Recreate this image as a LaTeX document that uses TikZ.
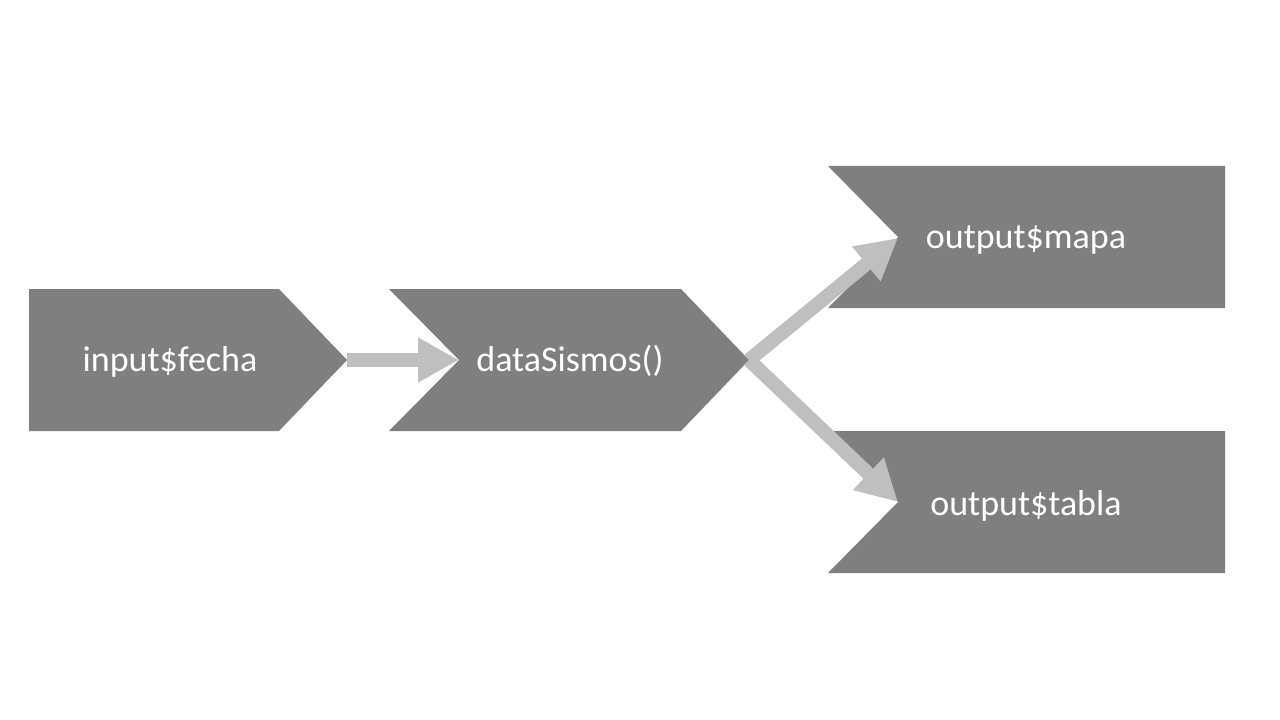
\documentclass[tikz,border=0pt]{standalone}
\usepackage{fontspec}
\setmainfont{Carlito}
\usetikzlibrary{arrows.meta}
\definecolor{shapegray}{HTML}{7F7F7F}
\definecolor{arrowgray}{HTML}{BFBFBF}
\tikzset{
  blockshape/.style={fill=shapegray, draw=none},
  label/.style={text=white, font=\fontsize{27pt}{32pt}\selectfont, inner sep=0pt, anchor=base},
  flow/.style={draw=arrowgray, line width=10.5pt, line cap=butt,
    -{Triangle[length=30.75pt, width=31.5pt]}, arrowgray}
}
\begin{document}
\begin{tikzpicture}[x=0.75pt, y=-0.75pt]
\useasboundingbox (0,0) rectangle (1280,720);
% shapes
\path[blockshape] (29,289) -- (279,289) -- (347,360) -- (279,431) -- (29,431) -- cycle;
\path[blockshape] (389,289) -- (681,289) -- (749,360) -- (681,431) -- (389,431) -- (459,360) -- cycle;
\path[blockshape] (828,166) -- (1225,166) -- (1225,308) -- (828,308) -- (898,237) -- cycle;
\path[blockshape] (828,431) -- (1225,431) -- (1225,573) -- (828,573) -- (898,502) -- cycle;
% anchor coordinates
\coordinate (p1) at (347,360);
\coordinate (n2) at (459,360);
\coordinate (p2) at (749,360);
\coordinate (n3) at (898,238);
\coordinate (n4) at (898,502);
% labels
\node[label] (input) at (170,371) {input\$fecha};
\node[label] (data) at (570,371) {dataSismos()};
\node[label] (mapa) at (1026,248) {output\$mapa};
\node[label] (tabla) at (1026,515) {output\$tabla};
% connectors
\draw[flow] (p1) -- (n2);
\draw[flow] (p2) -- (n3);
\draw[flow] (p2) -- (n4);
\end{tikzpicture}
\end{document}
